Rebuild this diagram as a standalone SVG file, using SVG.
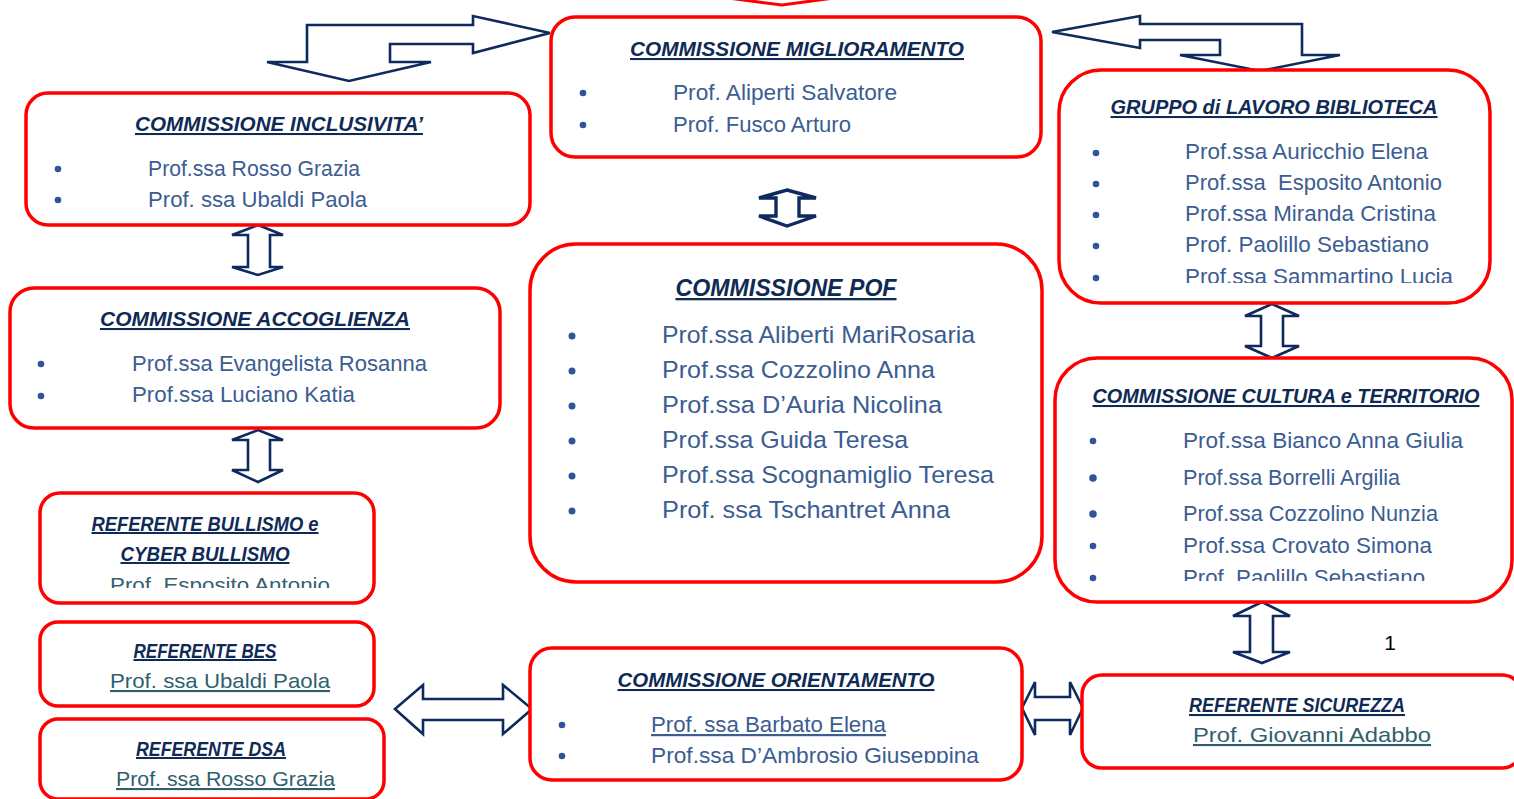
<svg xmlns="http://www.w3.org/2000/svg" width="1514" height="799" viewBox="0 0 1514 799">
<style>
.box{fill:#fff;stroke:#ff0000;stroke-width:3.5}
.arr{fill:#fff;stroke:#0f2a5e;stroke-width:2.6;stroke-linejoin:miter}
.t{font-family:"Liberation Sans",Arial,sans-serif;font-weight:bold;font-style:italic;fill:#0f2a55;text-decoration:underline;text-anchor:middle}
.i{font-family:"Liberation Sans",Arial,sans-serif;fill:#3b5d92}
.n{font-family:"Liberation Sans",Arial,sans-serif;fill:#2f5f6e;text-decoration:underline}
.b{fill:#2f5597}
</style>
<defs>
<clipPath id="cBul"><rect x="40" y="490" width="340" height="98"/></clipPath>
<clipPath id="cBib"><rect x="1059" y="70" width="440" height="213"/></clipPath>
<clipPath id="cCul"><rect x="1055" y="358" width="459" height="223"/></clipPath>
<clipPath id="cOri"><rect x="530" y="648" width="495" height="115"/></clipPath>
</defs>
<rect width="1514" height="799" fill="#fff"/>

<g id="connectors">
<path d="M728 -2 L782 5 L834 -2" fill="none" stroke="#ff0000" stroke-width="3"/>
<path class="arr" d="M307 62 L307 25 L473 25 L473 16 L550 33 L473 53 L473 44 L390 44 L390 62 L431 62 L349 81 L267 62 Z"/>
<path class="arr" d="M1052 32 L1140 16 L1140 24 L1302 24 L1302 55 L1340 55 L1260 71 L1180 55 L1220 55 L1220 40 L1140 40 L1140 48 Z"/>
<path class="arr" d="M258 225 L283 235 L270 235 L270 267 L283 267 L258 275 L232 267 L248 267 L248 235 L232 235 Z"/>
<path class="arr" d="M258 430 L283 440 L270 440 L270 470 L283 470 L258 482 L232 470 L248 470 L248 440 L232 440 Z"/>
<path class="arr" style="stroke-width:3.4" d="M787 190 L816 198 L799 198 L799 216 L816 216 L787 226 L759 216 L776 216 L776 198 L759 198 Z"/>
<path class="arr" d="M1272 304 L1299 316 L1283 316 L1283 346 L1299 346 L1272 358 L1245 346 L1261 346 L1261 316 L1245 316 Z"/>
<path class="arr" d="M1262 602 L1290 616 L1273 616 L1273 652 L1290 652 L1262 663 L1233 652 L1250 652 L1250 616 L1233 616 Z"/>
<path class="arr" d="M395 709 L423 685 L423 699 L503 699 L503 685 L532 709 L503 734 L503 720 L423 720 L423 734 Z"/>
<path class="arr" d="M1022 708 L1035 682 L1035 697 L1070 697 L1070 682 L1083 708 L1070 735 L1070 720 L1035 720 L1035 735 Z"/>
</g>

<g id="miglioramento">
<rect class="box" x="551" y="17" width="490" height="140" rx="24"/>
<text class="t" x="797" y="56" font-size="20.5" textLength="334" lengthAdjust="spacingAndGlyphs">COMMISSIONE MIGLIORAMENTO</text>
<circle class="b" cx="583" cy="93" r="3.3"/><circle class="b" cx="583" cy="125" r="3.3"/>
<text class="i" x="673" y="100" font-size="22" textLength="224" lengthAdjust="spacingAndGlyphs">Prof. Aliperti Salvatore</text>
<text class="i" x="673" y="132" font-size="22" textLength="178" lengthAdjust="spacingAndGlyphs">Prof. Fusco Arturo</text>
</g>

<g id="inclusivita">
<rect class="box" x="26" y="93" width="504" height="132" rx="22"/>
<text class="t" x="279" y="131" font-size="20.5" textLength="288" lengthAdjust="spacingAndGlyphs">COMMISSIONE INCLUSIVITA’</text>
<circle class="b" cx="58" cy="169" r="3.3"/><circle class="b" cx="58" cy="200" r="3.3"/>
<text class="i" x="148" y="176" font-size="22" textLength="212" lengthAdjust="spacingAndGlyphs">Prof.ssa Rosso Grazia</text>
<text class="i" x="148" y="207" font-size="22" textLength="219" lengthAdjust="spacingAndGlyphs">Prof. ssa Ubaldi Paola</text>
</g>

<g id="accoglienza">
<rect class="box" x="10" y="288" width="490" height="140" rx="24"/>
<text class="t" x="255" y="326" font-size="20.5" textLength="310" lengthAdjust="spacingAndGlyphs">COMMISSIONE ACCOGLIENZA</text>
<circle class="b" cx="41" cy="364" r="3.3"/><circle class="b" cx="41" cy="396" r="3.3"/>
<text class="i" x="132" y="371" font-size="22" textLength="295" lengthAdjust="spacingAndGlyphs">Prof.ssa Evangelista Rosanna</text>
<text class="i" x="132" y="402" font-size="22" textLength="223" lengthAdjust="spacingAndGlyphs">Prof.ssa Luciano Katia</text>
</g>

<g id="bullismo">
<rect class="box" x="40" y="493" width="334" height="110" rx="20"/>
<text class="t" x="205" y="531" font-size="20" textLength="227" lengthAdjust="spacingAndGlyphs">REFERENTE BULLISMO e</text>
<text class="t" x="205" y="561" font-size="20" textLength="169" lengthAdjust="spacingAndGlyphs">CYBER BULLISMO</text>
<g clip-path="url(#cBul)"><text class="i" style="fill:#35606e" x="110" y="592" font-size="21" textLength="220" lengthAdjust="spacingAndGlyphs">Prof. Esposito Antonio</text></g>
</g>

<g id="bes">
<rect class="box" x="40" y="622" width="334" height="84" rx="18"/>
<text class="t" x="205" y="658" font-size="20" textLength="143" lengthAdjust="spacingAndGlyphs">REFERENTE BES</text>
<text class="n" x="110" y="688" font-size="21" textLength="220" lengthAdjust="spacingAndGlyphs">Prof. ssa Ubaldi Paola</text>
</g>

<g id="dsa">
<rect class="box" x="40" y="719" width="344" height="80" rx="18"/>
<text class="t" x="211" y="756" font-size="20" textLength="150" lengthAdjust="spacingAndGlyphs">REFERENTE DSA</text>
<text class="n" x="116" y="786" font-size="21" textLength="219" lengthAdjust="spacingAndGlyphs">Prof. ssa Rosso Grazia</text>
</g>

<g id="pof">
<rect class="box" x="530" y="244" width="512" height="338" rx="46"/>
<text class="t" x="786" y="296" font-size="23" textLength="221" lengthAdjust="spacingAndGlyphs">COMMISSIONE POF</text>
<circle class="b" cx="572" cy="336" r="3.5"/><circle class="b" cx="572" cy="371" r="3.5"/><circle class="b" cx="572" cy="406" r="3.5"/><circle class="b" cx="572" cy="441" r="3.5"/><circle class="b" cx="572" cy="476" r="3.5"/><circle class="b" cx="572" cy="511" r="3.5"/>
<text class="i" x="662" y="343" font-size="24.5" textLength="313" lengthAdjust="spacingAndGlyphs">Prof.ssa Aliberti MariRosaria</text>
<text class="i" x="662" y="378" font-size="24.5" textLength="273" lengthAdjust="spacingAndGlyphs">Prof.ssa Cozzolino Anna</text>
<text class="i" x="662" y="413" font-size="24.5" textLength="280" lengthAdjust="spacingAndGlyphs">Prof.ssa D’Auria Nicolina</text>
<text class="i" x="662" y="448" font-size="24.5" textLength="246" lengthAdjust="spacingAndGlyphs">Prof.ssa Guida Teresa</text>
<text class="i" x="662" y="483" font-size="24.5" textLength="332" lengthAdjust="spacingAndGlyphs">Prof.ssa Scognamiglio Teresa</text>
<text class="i" x="662" y="518" font-size="24.5" textLength="288" lengthAdjust="spacingAndGlyphs">Prof. ssa Tschantret Anna</text>
</g>

<g id="orientamento">
<rect class="box" x="530" y="648" width="492" height="132" rx="22"/>
<text class="t" x="776" y="687" font-size="20.5" textLength="317" lengthAdjust="spacingAndGlyphs">COMMISSIONE ORIENTAMENTO</text>
<circle class="b" cx="562" cy="725" r="3.3"/><circle class="b" cx="562" cy="756" r="3.3"/>
<text class="n" style="fill:#3b5d92" x="651" y="732" font-size="22" textLength="235" lengthAdjust="spacingAndGlyphs">Prof. ssa Barbato Elena</text>
<g clip-path="url(#cOri)"><text class="i" x="651" y="763" font-size="22" textLength="328" lengthAdjust="spacingAndGlyphs">Prof.ssa D’Ambrosio Giuseppina</text></g>
</g>

<g id="biblioteca">
<rect class="box" x="1059" y="70" width="431" height="233" rx="42"/>
<text class="t" x="1274" y="114" font-size="20.5" textLength="327" lengthAdjust="spacingAndGlyphs">GRUPPO di LAVORO BIBLIOTECA</text>
<circle class="b" cx="1096" cy="153" r="3.3"/><circle class="b" cx="1096" cy="184" r="3.3"/><circle class="b" cx="1096" cy="215" r="3.3"/><circle class="b" cx="1096" cy="246" r="3.3"/><circle class="b" cx="1096" cy="278" r="3.3"/>
<text class="i" x="1185" y="159" font-size="22" textLength="243" lengthAdjust="spacingAndGlyphs">Prof.ssa Auricchio Elena</text>
<text class="i" x="1185" y="190" font-size="22" textLength="257" lengthAdjust="spacingAndGlyphs" xml:space="preserve">Prof.ssa  Esposito Antonio</text>
<text class="i" x="1185" y="221" font-size="22" textLength="251" lengthAdjust="spacingAndGlyphs">Prof.ssa Miranda Cristina</text>
<text class="i" x="1185" y="252" font-size="22" textLength="244" lengthAdjust="spacingAndGlyphs">Prof. Paolillo Sebastiano</text>
<g clip-path="url(#cBib)"><text class="i" x="1185" y="284" font-size="22" textLength="268" lengthAdjust="spacingAndGlyphs">Prof.ssa Sammartino Lucia</text></g>
</g>

<g id="cultura">
<rect class="box" x="1055" y="358" width="457" height="244" rx="42"/>
<text class="t" x="1286" y="403" font-size="20.5" textLength="387" lengthAdjust="spacingAndGlyphs">COMMISSIONE CULTURA e TERRITORIO</text>
<circle class="b" cx="1093" cy="441" r="3.3"/><circle class="b" cx="1093" cy="478" r="3.8"/><circle class="b" cx="1093" cy="514" r="3.8"/><circle class="b" cx="1093" cy="546" r="3.3"/><circle class="b" cx="1093" cy="578" r="3.3"/>
<text class="i" x="1183" y="448" font-size="22" textLength="280" lengthAdjust="spacingAndGlyphs">Prof.ssa Bianco Anna Giulia</text>
<text class="i" x="1183" y="485" font-size="22" textLength="217" lengthAdjust="spacingAndGlyphs">Prof.ssa Borrelli Argilia</text>
<text class="i" x="1183" y="521" font-size="22" textLength="255" lengthAdjust="spacingAndGlyphs">Prof.ssa Cozzolino Nunzia</text>
<text class="i" x="1183" y="553" font-size="22" textLength="249" lengthAdjust="spacingAndGlyphs">Prof.ssa Crovato Simona</text>
<g clip-path="url(#cCul)"><text class="i" x="1183" y="585" font-size="22" textLength="242" lengthAdjust="spacingAndGlyphs">Prof. Paolillo Sebastiano</text></g>
</g>

<g id="sicurezza">
<rect class="box" x="1082" y="675" width="440" height="93" rx="20"/>
<text class="t" x="1297" y="712" font-size="20.5" textLength="216" lengthAdjust="spacingAndGlyphs">REFERENTE SICUREZZA</text>
<text class="n" x="1193" y="742" font-size="21" textLength="238" lengthAdjust="spacingAndGlyphs">Prof. Giovanni Adabbo</text>
</g>

<g id="page-number">
<text x="1390" y="650" font-family="Liberation Sans, Arial, sans-serif" font-size="21" fill="#000" text-anchor="middle">1</text>
</g>
</svg>
